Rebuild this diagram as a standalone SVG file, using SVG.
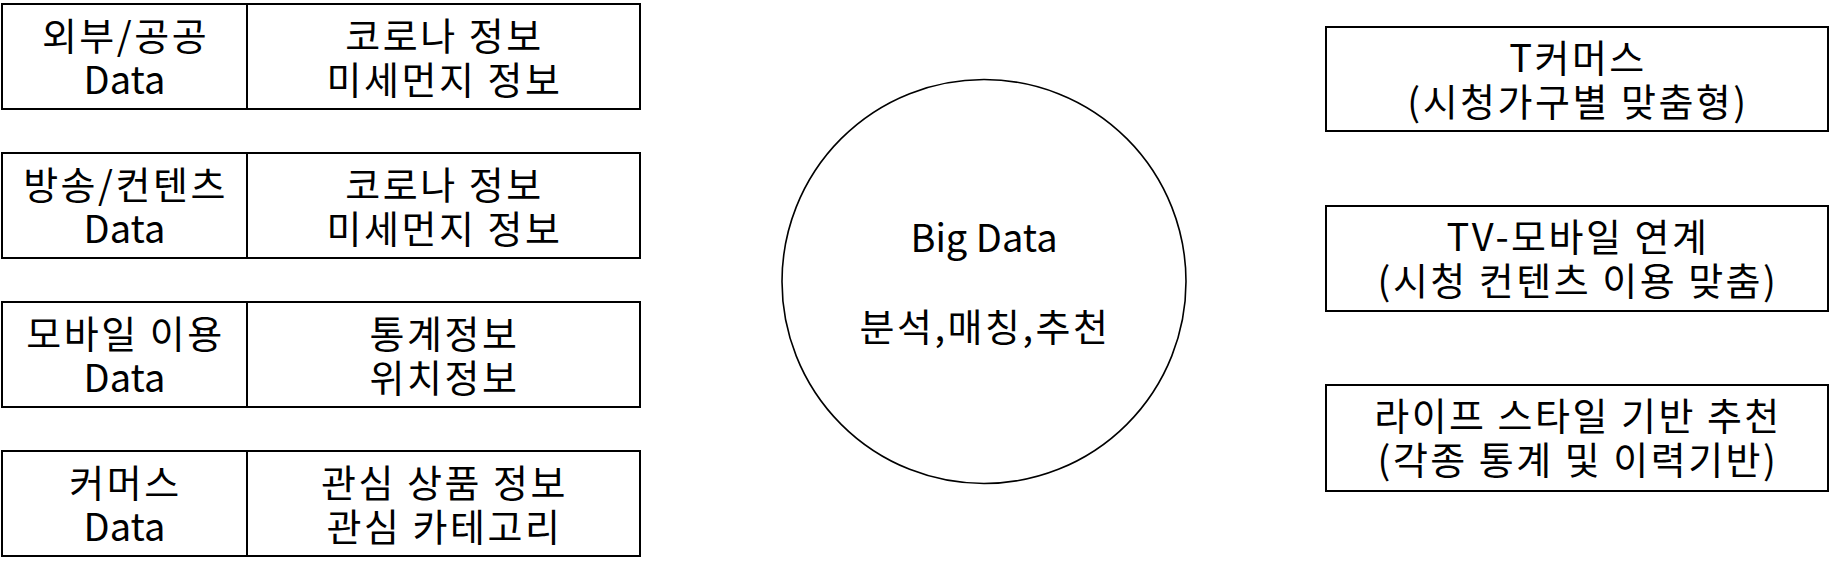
<svg xmlns="http://www.w3.org/2000/svg" width="1829" height="572" viewBox="0 0 1829 572">
<style>
.box{fill:#fff;stroke:#000;stroke-width:2}
.div{stroke:#000;stroke-width:2}
.circ{fill:#fff;stroke:#000;stroke-width:1.6}
text{font-family:"Noto Sans CJK KR","Noto Sans",sans-serif;font-size:38px;fill:#000;text-anchor:middle}
.k{letter-spacing:2.5px}
</style>
<rect width="1829" height="572" fill="#fff"/>
<g id="connectors"></g>
<g id="src1">
<rect class="box" x="2" y="4" width="638" height="105"/>
<line class="div" x1="247" y1="4" x2="247" y2="109"/>
<text class="k" x="125.5" y="50">외부/공공</text>
<text x="124.5" y="94">Data</text>
<text class="k" x="444.5" y="50">코로나 정보</text>
<text class="k" x="444.5" y="94">미세먼지 정보</text>
</g>
<g id="src2">
<rect class="box" x="2" y="153" width="638" height="105"/>
<line class="div" x1="247" y1="153" x2="247" y2="258"/>
<text class="k" x="125.5" y="199">방송/컨텐츠</text>
<text x="124.5" y="243">Data</text>
<text class="k" x="444.5" y="199">코로나 정보</text>
<text class="k" x="444.5" y="243">미세먼지 정보</text>
</g>
<g id="src3">
<rect class="box" x="2" y="302" width="638" height="105"/>
<line class="div" x1="247" y1="302" x2="247" y2="407"/>
<text class="k" x="125.5" y="348">모바일 이용</text>
<text x="124.5" y="392">Data</text>
<text class="k" x="444.5" y="348">통계정보</text>
<text class="k" x="444.5" y="392">위치정보</text>
</g>
<g id="src4">
<rect class="box" x="2" y="451" width="638" height="105"/>
<line class="div" x1="247" y1="451" x2="247" y2="556"/>
<text class="k" x="125.5" y="497">커머스</text>
<text x="124.5" y="541">Data</text>
<text class="k" x="444.5" y="497">관심 상품 정보</text>
<text class="k" x="444.5" y="541">관심 카테고리</text>
</g>
<g id="bigdata">
<circle class="circ" cx="984" cy="281.5" r="202"/>
<text x="984" y="252">Big Data</text>
<text class="k" x="985" y="341">분석,매칭,추천</text>
</g>
<g id="out1">
<rect class="box" x="1326" y="27" width="502" height="104"/>
<text class="k" x="1578" y="72">T커머스</text>
<text class="k" x="1578" y="116">(시청가구별 맞춤형)</text>
</g>
<g id="out2">
<rect class="box" x="1326" y="206" width="502" height="105"/>
<text class="k" x="1578" y="251">TV-모바일 연계</text>
<text class="k" x="1578" y="295">(시청 컨텐츠 이용 맞춤)</text>
</g>
<g id="out3">
<rect class="box" x="1326" y="385" width="502" height="106"/>
<text class="k" x="1578" y="430">라이프 스타일 기반 추천</text>
<text class="k" x="1578" y="474">(각종 통계 및 이력기반)</text>
</g>
</svg>
